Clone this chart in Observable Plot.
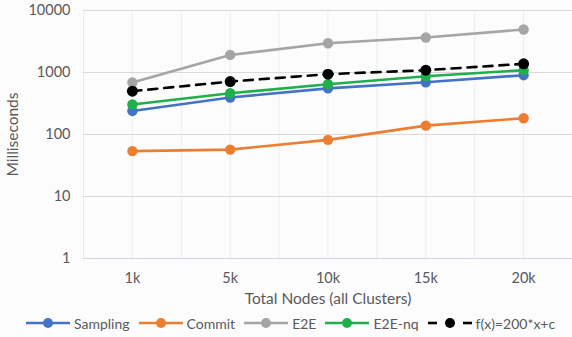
<!DOCTYPE html>
<html>
<head>
<meta charset="utf-8">
<script src="https://cdn.jsdelivr.net/npm/d3@7"></script>
<script src="https://cdn.jsdelivr.net/npm/@observablehq/plot@0.6"></script>
<style>
  html, body { margin: 0; padding: 0; background: #fcfcfd; }
  body { width: 572px; height: 337px; overflow: hidden; font-family: Lato, "Open Sans", sans-serif; color: #595959; }
  #chart svg { display: block; background: transparent; }
  #chart g[aria-label="y-axis label"] text,
  #chart g[aria-label="x-axis label"] text { font-size: 15.5px; }
  .legend { display: flex; align-items: center; height: 24px; font-size: 14px; color: #595959; padding-left: 26px; margin-top: -1px; }
  .legend .item { display: flex; align-items: center; margin-right: 9px; }
  .legend svg { margin-right: 4px; }
</style>
</head>
<body>
<div id="chart"></div>
<div class="legend" id="legend"></div>
<script>
// Cluster sizes on the x axis
const categories = ["1k", "5k", "10k", "15k", "20k"];

// Latency per cluster size, in milliseconds
const sampling = [240, 395, 555, 695, 905];
const commit   = [54, 57, 82, 139, 183];
const e2e      = [690, 1920, 2960, 3660, 4940];
const e2eNq    = [305, 462, 648, 870, 1090];
const fit      = [500, 714, 940, 1090, 1380];

const seriesNames = ["Sampling", "Commit", "E2E", "E2E-nq", "f(x)=200*x+c"];
const seriesColors = ["#4472C4", "#ED7D31", "#A5A5A5", "#1FB04C", "#000000"];
const seriesValues = [sampling, commit, e2e, e2eNq, fit];

const yTicks = [1, 10, 100, 1000, 10000];

// Long table: one row per (series, cluster size)
const rows = seriesNames.flatMap((name, s) =>
  seriesValues[s].map((v, i) => ({series: name, i, value: v}))
);
const solidRows = rows.filter(d => d.series !== "f(x)=200*x+c");
const fitRows = rows.filter(d => d.series === "f(x)=200*x+c");

// Faint vertical grid at category centres and midpoints between them
const xGrid = d3.range(-0.5, categories.length, 0.5);

const color = {domain: seriesNames, range: seriesColors};

const chart = Plot.plot({
  width: 572,
  height: 312,
  marginLeft: 83,
  marginRight: 0,
  marginTop: 10,
  marginBottom: 54,
  style: {fontFamily: "Lato, 'Open Sans', sans-serif", fontSize: "14.5px", color: "#595959", background: "transparent"},
  x: {type: "linear", domain: [-0.5, categories.length - 0.5]},
  y: {type: "log", domain: [1, 10000]},
  color,
  marks: [
    Plot.ruleX(xGrid, {x: d => d, stroke: "#e9edf2", strokeWidth: 1}),
    Plot.ruleY(yTicks.slice(1), {y: d => d, stroke: "#d9d9d9", strokeWidth: 1.2}),
    Plot.ruleY([1], {y: d => d, stroke: "#cdd6e0", strokeWidth: 1.2}),
    Plot.axisY({ticks: yTicks, tickFormat: d => String(d), tickSize: 0, tickPadding: 13, fill: "#595959",
      label: "Milliseconds", labelAnchor: "center", labelArrow: "none", labelOffset: 77}),
    Plot.axisX({ticks: d3.range(categories.length), tickFormat: i => categories[i], tickSize: 0, tickPadding: 14, fill: "#595959",
      label: "Total Nodes (all Clusters)", labelAnchor: "center", labelArrow: "none", labelOffset: 45}),
    Plot.line(solidRows, {x: "i", y: "value", z: "series", stroke: "series", strokeWidth: 2.6}),
    Plot.dot(solidRows, {x: "i", y: "value", fill: "series", r: 5.2}),
    Plot.line(fitRows, {x: "i", y: "value", stroke: "series", strokeWidth: 2.6, strokeDasharray: "9,7"}),
    Plot.dot(fitRows, {x: "i", y: "value", fill: "series", r: 5.5})
  ]
});
document.getElementById("chart").appendChild(chart);

// Legend row below the plot
const legend = document.getElementById("legend");
seriesNames.forEach((name, s) => {
  const item = document.createElement("div");
  item.className = "item";
  const dashed = s === seriesNames.length - 1;
  const sw = dashed
    ? `<svg width="44" height="12"><line x1="0" y1="6" x2="9" y2="6" stroke="${seriesColors[s]}" stroke-width="2.6"/><line x1="35" y1="6" x2="44" y2="6" stroke="${seriesColors[s]}" stroke-width="2.6"/><circle cx="22" cy="6" r="5" fill="${seriesColors[s]}"/></svg>`
    : `<svg width="44" height="12"><line x1="0" y1="6" x2="44" y2="6" stroke="${seriesColors[s]}" stroke-width="2.6"/><circle cx="22" cy="6" r="5" fill="${seriesColors[s]}"/></svg>`;
  item.innerHTML = sw + `<span>${name}</span>`;
  legend.appendChild(item);
});
</script>
</body>
</html>
